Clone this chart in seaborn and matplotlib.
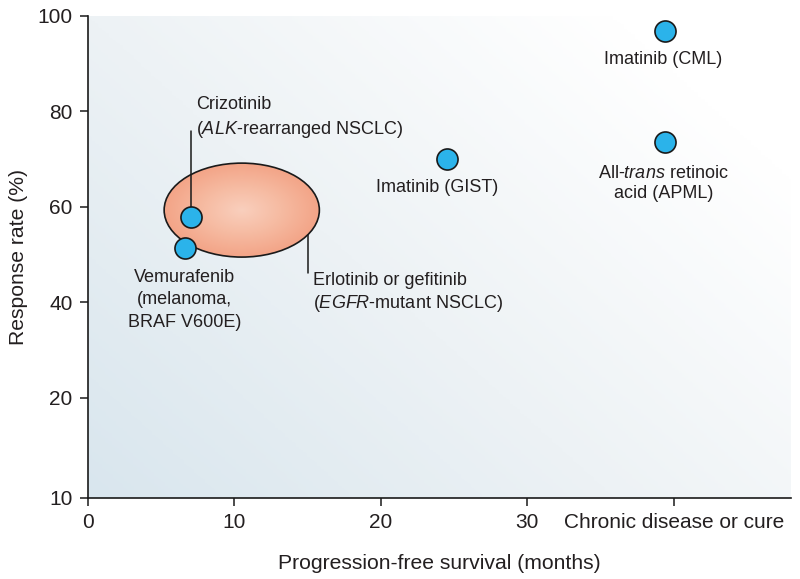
import numpy as np
import pandas as pd
import seaborn as sns
import matplotlib.pyplot as plt
from matplotlib.patches import Ellipse
from matplotlib.colors import LinearSegmentedColormap

# data
drugs = ["Imatinib (CML)", "ATRA (APML)", "Imatinib (GIST)", "Crizotinib", "Vemurafenib"]
pfs_months = [39.4, 39.4, 24.5, 7.0, 6.6]
response_pct = [96.9, 73.6, 70.0, 57.9, 51.4]
point_labels = [
    "Imatinib (CML)",
    "All-$\\it{trans}$ retinoic\nacid (APML)",
    "Imatinib (GIST)",
    "Crizotinib\n($\\it{ALK}$-rearranged NSCLC)",
    "Vemurafenib\n(melanoma,\nBRAF V600E)",
]

# EGFR TKI range (ellipse)
egfr_label = "Erlotinib or gefitinib\n($\\it{EGFR}$-mutant NSCLC)"
egfr_pfs_center, egfr_pfs_span = 10.5, 10.6
egfr_resp_center, egfr_resp_span = 59.3, 19.7

x_ticks = [0, 10, 20, 30, 40]
x_ticklabels = ["0", "10", "20", "30", "Chronic disease or cure"]
y_ticks = [-1, 20, 40, 60, 80, 100]
y_ticklabels = ["10", "20", "40", "60", "80", "100"]

df = pd.DataFrame({"drug": drugs, "pfs": pfs_months, "resp": response_pct})

sns.set_style("ticks")
plt.rcParams["font.family"] = ["Liberation Sans", "DejaVu Sans"]
plt.rcParams["mathtext.fontset"] = "custom"
plt.rcParams["mathtext.rm"] = "Liberation Sans"
plt.rcParams["mathtext.it"] = "Liberation Sans:italic"
text_col = "#231f20"

fig = plt.figure(figsize=(8, 5.79), dpi=100)
ax = fig.add_axes([0.110, 0.1404, 0.8786, 0.832])
ax.set_xlim(0, 48)
ax.set_ylim(-1, 100)

# background gradient: light blue bottom-left -> white top-right
u, v = np.meshgrid(np.linspace(0, 1, 200), np.linspace(0, 1, 200))
g = np.clip((u * 0.8 + v * 0.6) / 1.2, 0, 1)
bg_cmap = LinearSegmentedColormap.from_list("bg", ["#d9e6ee", "#edf2f5", "#ffffff"])
ax.imshow(g, cmap=bg_cmap, extent=[0, 48, -1, 100], origin="lower",
          aspect="auto", zorder=0, vmin=0, vmax=1)

# ellipse with radial gradient
ell = Ellipse((egfr_pfs_center, egfr_resp_center), egfr_pfs_span, egfr_resp_span,
              facecolor="none", edgecolor="#1a1a1a", lw=1.2, zorder=3)
ax.add_patch(ell)
eu, ev = np.meshgrid(np.linspace(-1, 1, 200), np.linspace(-1, 1, 200))
r = np.clip(np.sqrt(eu ** 2 + ev ** 2), 0, 1)
ell_cmap = LinearSegmentedColormap.from_list("ell", ["#f9cfbd", "#f6bba2", "#f3a487"])
im = ax.imshow(r, cmap=ell_cmap, vmin=0, vmax=1, aspect="auto", zorder=2,
               extent=[egfr_pfs_center - egfr_pfs_span / 2, egfr_pfs_center + egfr_pfs_span / 2,
                       egfr_resp_center - egfr_resp_span / 2, egfr_resp_center + egfr_resp_span / 2])
clip = Ellipse((egfr_pfs_center, egfr_resp_center), egfr_pfs_span, egfr_resp_span,
               transform=ax.transData, facecolor="none", edgecolor="none")
ax.add_patch(clip)
im.set_clip_path(clip)
ax.set_xlim(0, 48)
ax.set_ylim(-1, 100)

sns.scatterplot(data=df, x="pfs", y="resp", ax=ax, s=230, color="#2bb3ea",
                edgecolor="#1a1a1a", linewidth=1.2, zorder=5, legend=False)

# labels: offsets in points, alignment
label_offsets = [(-1, -14.5), (-1, -16.5), (-7, -14.5), (4, 55), (0, -15)]
label_ha = ["center", "center", "center", "left", "center"]
label_va = ["top", "top", "top", "bottom", "top"]
label_ls = [1.3, 1.25, 1.3, 1.45, 1.45]
for lab, x, y, off, ha, va, ls in zip(point_labels, pfs_months, response_pct,
                                      label_offsets, label_ha, label_va, label_ls):
    ax.annotate(lab, (x, y), xytext=off, textcoords="offset points",
                ha=ha, va=va, fontsize=13, color=text_col, linespacing=ls, zorder=6)

# leader line for Crizotinib
ax.plot([pfs_months[3], pfs_months[3]], [response_pct[3], 75.9], color="#1a1a1a", lw=1.1, zorder=4)

# leader line + label for EGFR ellipse
theta = np.deg2rad(-32)
lx = egfr_pfs_center + egfr_pfs_span / 2 * np.cos(theta)
ly = egfr_resp_center + egfr_resp_span / 2 * np.sin(theta)
ax.plot([lx, lx], [ly, 46.1], color="#1a1a1a", lw=1.1, zorder=4)
ax.text(lx + 0.35, 46.4, egfr_label, ha="left", va="top", fontsize=13,
        color=text_col, linespacing=1.3, zorder=6)

ax.set_xticks(x_ticks)
ax.set_xticklabels(x_ticklabels)
ax.set_yticks(y_ticks)
ax.set_yticklabels(y_ticklabels)
ax.tick_params(axis="both", direction="out", length=6, width=1.1, colors="#1a1a1a",
               labelsize=15, labelcolor=text_col, pad=5)
ax.set_xlabel("Progression-free survival (months)", fontsize=15.2, color=text_col, labelpad=16)
ax.set_ylabel("Response rate (%)", fontsize=15.2, color=text_col, labelpad=7)
sns.despine(ax=ax)
ax.spines["left"].set_linewidth(1.2)
ax.spines["bottom"].set_linewidth(1.2)
ax.spines["left"].set_color("#1a1a1a")
ax.spines["bottom"].set_color("#1a1a1a")

fig.savefig("out.png", dpi=100)
